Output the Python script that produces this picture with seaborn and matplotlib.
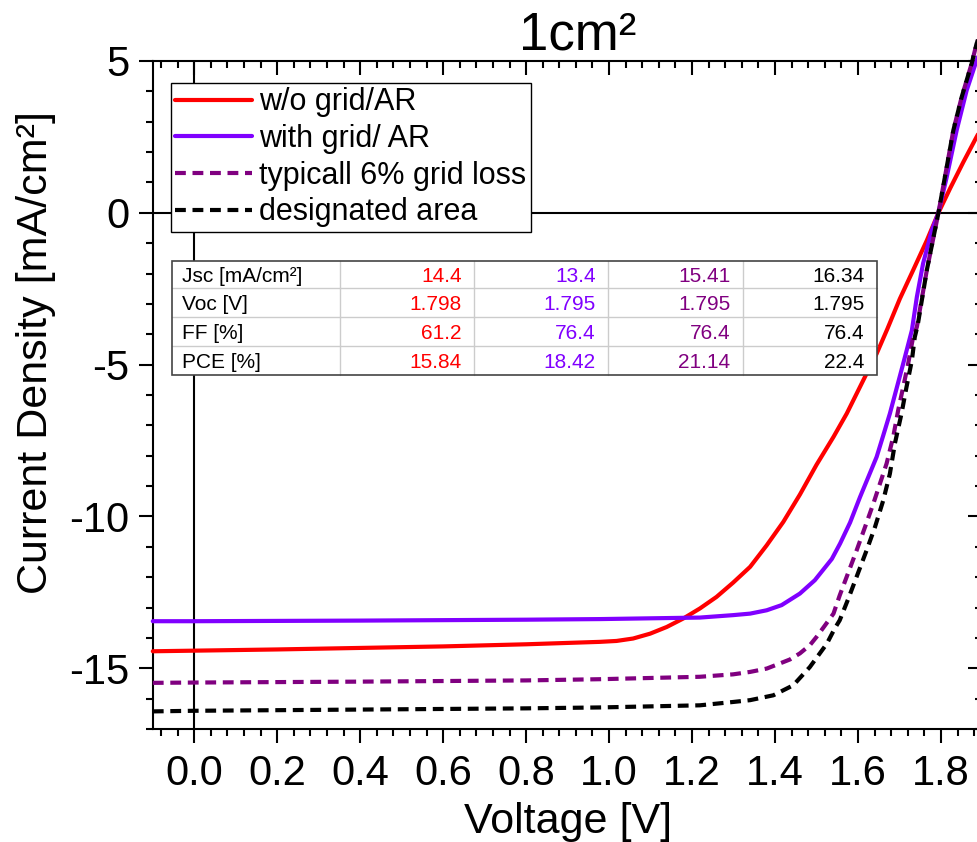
import numpy as np
import pandas as pd
import matplotlib
matplotlib.use("Agg")
import matplotlib.pyplot as plt
from matplotlib.ticker import MultipleLocator
from matplotlib.lines import Line2D
from matplotlib.patches import Rectangle
import seaborn as sns

# ---------------- data ----------------
series_names = ["w/o grid/AR", "with grid/ AR", "typicall 6% grid loss", "designated area"]
series_colors = ["#FF0000", "#8000FF", "#800080", "#000000"]

v_red = [-0.1, 0.0, 0.2, 0.4, 0.6, 0.8, 0.978, 1.018, 1.058, 1.099, 1.139, 1.179, 1.219,
         1.259, 1.299, 1.340, 1.380, 1.420, 1.460, 1.500, 1.541, 1.573, 1.597, 1.621,
         1.645, 1.671, 1.701, 1.733, 1.766, 1.794, 1.822, 1.854, 1.886, 1.9]
j_red = [-14.44, -14.42, -14.38, -14.33, -14.28, -14.21, -14.13, -14.10, -14.02, -13.86,
         -13.64, -13.36, -13.03, -12.65, -12.18, -11.66, -10.95, -10.18, -9.28, -8.30,
         -7.38, -6.61, -5.95, -5.29, -4.64, -3.82, -2.83, -1.89, -0.91, 0.0, 0.80, 1.67,
         2.50, 2.85]

v_grid = [-0.1, 0.0, 0.4, 0.8, 0.978, 1.219, 1.299, 1.340, 1.380, 1.416, 1.460, 1.496,
          1.537, 1.557, 1.581, 1.605, 1.625, 1.645, 1.661, 1.677, 1.693, 1.709, 1.730,
          1.742, 1.757, 1.778, 1.794, 1.814, 1.838, 1.862, 1.886, 1.9]
j_grid = [-13.45, -13.45, -13.43, -13.40, -13.38, -13.33, -13.25, -13.20, -13.09, -12.92,
          -12.54, -12.10, -11.40, -10.89, -10.20, -9.36, -8.70, -8.04, -7.33, -6.61,
          -5.79, -4.97, -3.87, -2.77, -1.67, -0.58, 0.0, 1.18, 2.72, 4.03, 5.02, 5.5]

v_loss = [-0.1, 0.0, 0.4, 0.8, 0.978, 1.219, 1.299, 1.340, 1.380, 1.412, 1.436, 1.460,
          1.484, 1.500, 1.522, 1.541, 1.556, 1.597, 1.617, 1.637, 1.653, 1.669, 1.685,
          1.697, 1.709, 1.721, 1.733, 1.742, 1.766, 1.794, 1.814, 1.830, 1.850, 1.874,
          1.886, 1.9]
j_loss = [-15.48, -15.47, -15.44, -15.40, -15.36, -15.28, -15.20, -15.12, -15.01, -14.84,
          -14.71, -14.51, -14.24, -13.97, -13.56, -13.20, -12.60, -11.11, -10.35, -9.58,
          -8.92, -8.26, -7.38, -6.50, -5.74, -4.97, -4.09, -3.76, -1.89, 0.0, 1.51, 2.72,
          3.81, 4.91, 5.57, 6.1]

v_area = [-0.1, 0.0, 0.4, 0.8, 0.978, 1.219, 1.299, 1.340, 1.396, 1.444, 1.484, 1.525,
          1.544, 1.556, 1.577, 1.621, 1.641, 1.661, 1.677, 1.689, 1.705, 1.717, 1.730,
          1.737, 1.744, 1.766, 1.794, 1.814, 1.830, 1.850, 1.874, 1.886, 1.9]
j_area = [-16.42, -16.40, -16.36, -16.32, -16.29, -16.22, -16.11, -16.05, -15.89, -15.56,
          -14.96, -14.19, -13.69, -13.42, -12.70, -11.11, -10.35, -9.47, -8.59, -7.60,
          -6.61, -5.74, -4.86, -4.09, -3.70, -1.89, 0.0, 1.51, 2.72, 3.81, 4.91, 5.57, 6.1]

table_rows = ["Jsc [mA/cm²]", "Voc [V]", "FF [%]", "PCE [%]"]
tab_red = ["14.4", "1.798", "61.2", "15.84"]
tab_grid = ["13.4", "1.795", "76.4", "18.42"]
tab_loss = ["15.41", "1.795", "76.4", "21.14"]
tab_area = ["16.34", "1.795", "76.4", "22.4"]

x_ticks = [0.0, 0.2, 0.4, 0.6, 0.8, 1.0, 1.2, 1.4, 1.6, 1.8]
y_ticks = [-15, -10, -5, 0, 5]

# ---------------- style ----------------
sns.set_style("ticks")
plt.rcParams["font.family"] = ["Liberation Sans", "DejaVu Sans"]
plt.rcParams["axes.unicode_minus"] = False
plt.rcParams["text.color"] = "black"
plt.rcParams["axes.labelcolor"] = "black"
plt.rcParams["xtick.color"] = "black"
plt.rcParams["ytick.color"] = "black"
plt.rcParams["axes.edgecolor"] = "black"

W, H = 977, 842
fig = plt.figure(figsize=(W / 100, H / 100), dpi=100)

def fx(px):
    return px / W

def fy(py):
    return 1 - py / H

ax_l, ax_r, ax_t, ax_b = 152.8, 982.4, 61.0, 729.0
ax = fig.add_axes([fx(ax_l), fy(ax_b), (ax_r - ax_l) / W, (ax_b - ax_t) / H])

frames = []
for name, v, j in zip(series_names, [v_red, v_grid, v_loss, v_area],
                      [j_red, j_grid, j_loss, j_area]):
    frames.append(pd.DataFrame({"V": v, "J": j, "series": name}))
df = pd.concat(frames, ignore_index=True)

ax.axhline(0, color="black", lw=1.5, zorder=1)
ax.axvline(0, color="black", lw=1.5, zorder=1)

dash_styles = [None, None, (2.6, 1.6), (2.6, 1.6)]
for i, (name, col, dsh) in enumerate(zip(series_names, series_colors, dash_styles)):
    sub = df[df["series"] == name]
    sns.lineplot(data=sub, x="V", y="J", ax=ax, color=col, lw=3.0, sort=False,
                 estimator=None, label=name, zorder=3 + i)
    line = ax.lines[-1]
    line.set_clip_on(False)
    line.set_solid_joinstyle("round")
    line.set_dash_joinstyle("round")
    if dsh is not None:
        line.set_dashes(dsh)

ax.set_xlim(-0.1, 1.9)
ax.set_ylim(-17, 5)
ax.set_xticks(x_ticks)
ax.set_yticks(y_ticks)
ax.xaxis.set_minor_locator(MultipleLocator(0.04))
ax.yaxis.set_minor_locator(MultipleLocator(1))
ax.set_xticklabels([f"{t:.1f}" for t in x_ticks])

for s in ax.spines.values():
    s.set_linewidth(1.5)
    s.set_color("black")

ax.tick_params(axis="both", which="major", length=10, width=1.5, labelsize=30,
               colors="black")
ax.tick_params(axis="both", which="minor", length=5, width=1.5, colors="black")
ax.tick_params(axis="x", which="both", bottom=True, top=True, direction="out")
ax.tick_params(axis="y", which="both", left=True, right=True, direction="out")
ax.tick_params(axis="x", which="major", pad=8)
ax.tick_params(axis="y", which="major", pad=7)
for tk in ax.xaxis.get_major_ticks() + ax.xaxis.get_minor_ticks():
    tk.tick2line.set_marker(3)
for tk in ax.yaxis.get_major_ticks() + ax.yaxis.get_minor_ticks():
    tk.tick2line.set_marker(0)

ax.set_xlabel("Voltage [V]", fontsize=31, labelpad=6, color="black")
ax.set_ylabel("Current Density [mA/cm²]", fontsize=31, color="black")
ax.yaxis.set_label_coords(-0.117, 0.564)

fig.text(fx(578), fy(50), "1cm²", ha="center", va="baseline", fontsize=38,
         color="black")

leg = ax.legend(loc="upper left", bbox_to_anchor=(fx(170.7), fy(82.7)),
                bbox_transform=fig.transFigure, frameon=True, fancybox=False,
                edgecolor="black", framealpha=1, borderpad=0.15, labelspacing=0.22,
                handlelength=2.5, handletextpad=0.25, borderaxespad=0, fontsize=22,
                labelcolor="black")
leg.get_frame().set_linewidth(1.0)
leg.set_zorder(20)

# ---------------- parameter table ----------------
t_left, t_right, t_top, t_bot = 171.7, 877.3, 260.7, 375.0
col_edges = [t_left, 340.0, 474.3, 608.3, 742.7, t_right]
row_edges = [t_top, 288.3, 317.3, 346.0, t_bot]

fig.add_artist(Rectangle((fx(t_left), fy(t_bot)), (t_right - t_left) / W,
                         (t_bot - t_top) / H, transform=fig.transFigure,
                         facecolor="white", edgecolor="none", zorder=18))
for xe in col_edges[1:-1]:
    fig.add_artist(Line2D([fx(xe), fx(xe)], [fy(t_top), fy(t_bot)],
                          transform=fig.transFigure, color="#cccccc", lw=1.0, zorder=19))
for ye in row_edges[1:-1]:
    fig.add_artist(Line2D([fx(t_left), fx(t_right)], [fy(ye), fy(ye)],
                          transform=fig.transFigure, color="#cccccc", lw=1.0, zorder=19))
fig.add_artist(Rectangle((fx(t_left), fy(t_bot)), (t_right - t_left) / W,
                         (t_bot - t_top) / H, transform=fig.transFigure,
                         facecolor="none", edgecolor="#444444", lw=1.2, zorder=21))

cols_data = [tab_red, tab_grid, tab_loss, tab_area]
for r, lab in enumerate(table_rows):
    yc = (row_edges[r] + row_edges[r + 1]) / 2
    fig.text(fx(col_edges[0] + 10), fy(yc), lab, ha="left", va="center_baseline",
             fontsize=15, color="black", zorder=22)
    for c, (vals, col) in enumerate(zip(cols_data, series_colors)):
        fig.text(fx(col_edges[c + 2] - 12.5), fy(yc), vals[r], ha="right",
                 va="center_baseline", fontsize=15, color=col, zorder=22)

fig.savefig("out.png", dpi=100)
